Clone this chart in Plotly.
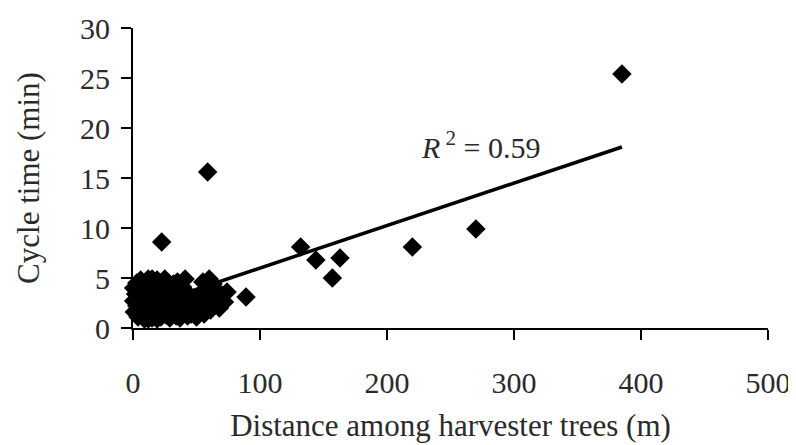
import plotly.graph_objects as go

# Cluster + outlier points
distance_m = [
    0.5, 0.5, 1, 2, 3, 3, 4, 5, 5, 6, 6, 7, 7, 8, 8, 9, 9, 10, 10, 10,
    11, 11, 12, 12, 12, 13, 13, 14, 14, 15, 15, 15, 16, 16, 17, 17, 18, 18, 19, 19,
    20, 20, 21, 21, 22, 22, 23, 24, 24, 25, 25, 26, 27, 27, 28, 29, 30, 30, 31, 32,
    33, 34, 35, 35, 36, 37, 38, 39, 40, 40, 41, 42, 43, 44, 45, 46, 48, 50, 52, 53,
    55, 56, 57, 58, 60, 61, 62, 63, 65, 66, 68, 70, 72, 74,
    22.6, 58.8, 89, 132, 144, 157, 163, 220, 270, 385,
]
cycle_min = [
    4.0, 2.7, 1.6, 3.4, 4.5, 2.2, 1.1, 3.8, 2.9, 1.9, 4.8, 3.2, 1.3, 2.5, 4.2, 0.9, 3.6, 1.9, 4.6, 2.8,
    1.2, 3.9, 2.2, 4.9, 0.9, 3.1, 1.7, 4.4, 2.6, 1.0, 3.5, 4.9, 2.0, 3.0, 4.3, 1.4, 2.7, 3.8, 0.9, 4.8,
    2.3, 3.3, 1.6, 4.1, 2.9, 1.1, 4.6, 3.6, 1.9, 2.5, 4.9, 1.3, 3.2, 4.2, 2.1, 1.0, 3.8, 2.7, 1.6, 4.4,
    2.4, 1.2, 3.4, 4.6, 2.0, 1.0, 3.0, 4.1, 1.6, 2.6, 4.9, 3.6, 1.2, 2.2, 3.0, 1.4, 2.8, 1.1, 2.1, 3.4,
    4.6, 1.4, 2.6, 3.8, 4.9, 1.8, 3.0, 4.4, 2.3, 3.6, 2.0, 3.3, 2.6, 3.6,
    8.6, 15.6, 3.1, 8.1, 6.8, 5.0, 7.0, 8.1, 9.9, 25.4,
]

trend_x = [0, 385]
trend_y = [1.75, 18.1]

x_ticks = [0, 100, 200, 300, 400, 500]
y_ticks = [0, 5, 10, 15, 20, 25, 30]

FONT = "Liberation Serif"
TXT = "#2a2a2a"

fig = go.Figure()
fig.add_trace(go.Scatter(
    x=distance_m, y=cycle_min, mode="markers",
    marker=dict(symbol="diamond", size=15, color="black", line=dict(width=0)),
    cliponaxis=False, showlegend=False,
))
fig.add_trace(go.Scatter(
    x=trend_x, y=trend_y, mode="lines",
    line=dict(color="black", width=3.5),
    cliponaxis=False, showlegend=False,
))

fig.add_annotation(
    x=274, y=18.3, xref="x", yref="y",
    text="<i>R</i><sup> 2</sup> = 0.59", showarrow=False,
    font=dict(family=FONT, size=30, color=TXT),
)

fig.update_layout(
    width=796, height=445,
    margin=dict(l=125, r=36, t=20, b=125),
    plot_bgcolor="white", paper_bgcolor="white",
    font=dict(family=FONT, size=30, color=TXT),
)
fig.update_xaxes(
    range=[0, 500], tickvals=x_ticks, showgrid=False, zeroline=False,
    showline=True, linecolor="black", linewidth=2, automargin=False,
    ticks="outside", ticklen=10, tickwidth=2, tickcolor="black",
    ticklabelstandoff=17,
    title=dict(text="Distance among harvester trees (m)", font=dict(size=31), standoff=16),
)
fig.update_yaxes(
    range=[0, 30], tickvals=y_ticks, showgrid=False, zeroline=False,
    showline=True, linecolor="black", linewidth=2, automargin=False,
    ticks="outside", ticklen=10, tickwidth=2, tickcolor="black",
    ticklabelstandoff=5,
    title=dict(text="Cycle time (min)", font=dict(size=31), standoff=31),
)

fig.write_html("out.html")
